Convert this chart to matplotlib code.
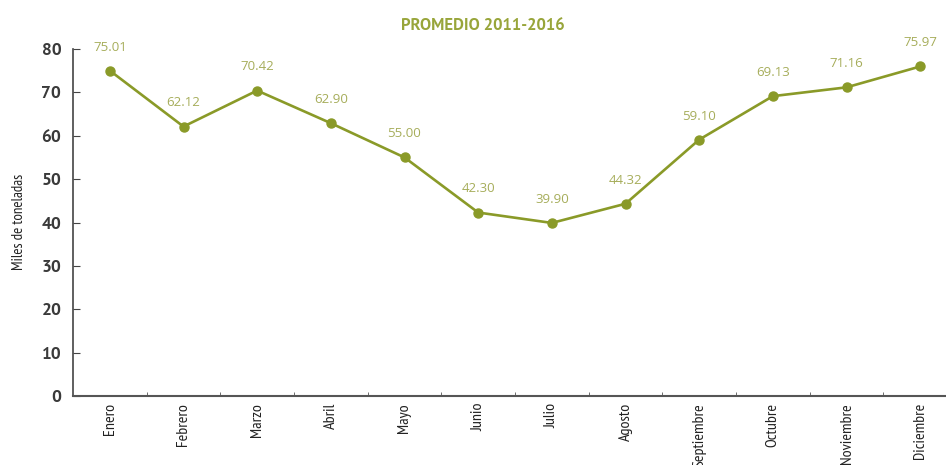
import matplotlib
matplotlib.use('Agg')
import matplotlib.pyplot as plt
import numpy as np

meses = ['Enero', 'Febrero', 'Marzo', 'Abril', 'Mayo', 'Junio', 'Julio',
         'Agosto', 'Septiembre', 'Octubre', 'Noviembre', 'Diciembre']
promedio = [75.01, 62.12, 70.42, 62.90, 55.00, 42.30, 39.90, 44.32,
            59.10, 69.13, 71.16, 75.97]
y_ticks = [0, 10, 20, 30, 40, 50, 60, 70, 80]

plt.rcParams['font.family'] = ['PT Sans', 'DejaVu Sans']
narrow = ['PT Sans Narrow', 'DejaVu Sans']

line_color = '#8a9a28'
label_color = '#a6ad5a'
title_color = '#98a53a'
text_color = '#3a3a3a'

fig = plt.figure(figsize=(9.46, 4.65), dpi=100)
ax = fig.add_axes([73 / 946, 1 - 396 / 465, 884 / 946, 347 / 465])

x = np.arange(len(meses))
ax.plot(x, promedio, color=line_color, linewidth=1.9, marker='o',
        markersize=6.5, zorder=3, clip_on=False)
for xi, v in zip(x, promedio):
    ax.annotate('%.2f' % v, (xi, v), textcoords='offset points',
                xytext=(0, 17), ha='center', va='center', fontsize=9.5,
                color=label_color, family=['Open Sans', 'DejaVu Sans'])

ax.set_xlim(-0.5, len(meses) - 0.5)
ax.set_ylim(0, 80)
ax.set_yticks(y_ticks)
ax.set_yticklabels([str(t) for t in y_ticks], fontsize=12.5,
                   color=text_color, fontweight='bold')
ax.set_xticks(x)
ax.set_xticklabels(meses, rotation=90, fontsize=11.5, color='#222222',
                   family=narrow)
ax.set_xticks(np.arange(0.5, len(meses) - 1, 1), minor=True)
ax.tick_params(axis='x', which='major', length=0, pad=5)
ax.tick_params(axis='x', which='minor', length=3, direction='in',
               color='#555555')
ax.tick_params(axis='y', length=5, direction='in', color='#444444', pad=8.5)

for s in ['top', 'right']:
    ax.spines[s].set_visible(False)
ax.spines['left'].set_color('#444444')
ax.spines['bottom'].set_color('#555555')
ax.spines['left'].set_linewidth(1.2)
ax.spines['bottom'].set_linewidth(1.5)

fig.text(19 / 946, 1 - 222 / 465, 'Miles de toneladas', rotation=90,
         ha='center', va='center', fontsize=10.7, color='#222222',
         family=narrow)
fig.text(483 / 946, 1 - 25 / 465, 'PROMEDIO 2011-2016', ha='center',
         va='center', fontsize=12, fontweight='bold', color=title_color)

fig.savefig('out.png', dpi=100)
